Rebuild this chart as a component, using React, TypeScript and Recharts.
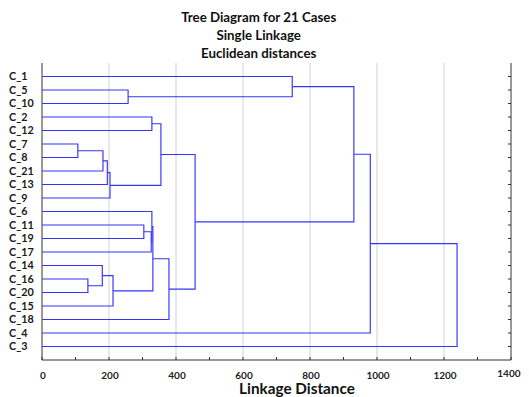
import React from 'react';
import { ScatterChart, Scatter, XAxis, YAxis, ReferenceLine } from 'recharts';

const leafNames = ['C_1', 'C_5', 'C_10', 'C_2', 'C_12', 'C_7', 'C_8', 'C_21', 'C_13', 'C_9', 'C_6', 'C_11', 'C_19', 'C_17', 'C_14', 'C_16', 'C_20', 'C_15', 'C_18', 'C_4', 'C_3'];
const mergeLeft = ['C_5', 'C_1', 'C_2', 'C_7', 'm3', 'm4', 'm5', 'm2', 'C_11', 'm8', 'C_6', 'C_16', 'C_14', 'm12', 'm10', 'm14', 'm7', 'm1', 'm17', 'm18'];
const mergeRight = ['C_10', 'm0', 'C_12', 'C_8', 'C_21', 'C_13', 'C_9', 'm6', 'C_19', 'C_17', 'm9', 'C_20', 'm11', 'C_15', 'm13', 'C_18', 'm15', 'm16', 'C_4', 'C_3'];
const mergeHeights = [257, 747, 328, 107, 182, 195, 203, 355, 304, 326, 328, 137, 180, 212, 331, 379, 457, 931, 980, 1239];
const xMinorTicks = [0, 100, 200, 300, 400, 500, 600, 700, 800, 900, 1000, 1100, 1200, 1300, 1400];
const gridValues = [200, 400, 600, 800, 1000, 1200];

const titleLines = ['Tree Diagram for 21 Cases', 'Single Linkage', 'Euclidean distances'];
const xAxisTitle = 'Linkage Distance';

const FONT = 'Lato, "Open Sans", sans-serif';
const LINE_COLOR = '#3434f6';
const AXIS_COLOR = '#333';

type Node = { h: number; y: number };

function nodeOf(name: string, cache: Record<string, Node>): Node {
  if (cache[name]) return cache[name];
  let n: Node;
  if (name.startsWith('m')) {
    const i = parseInt(name.slice(1), 10);
    const a = nodeOf(mergeLeft[i], cache);
    const b = nodeOf(mergeRight[i], cache);
    n = { h: mergeHeights[i], y: (a.y + b.y) / 2 };
  } else {
    n = { h: 0, y: leafNames.indexOf(name) + 1 };
  }
  cache[name] = n;
  return n;
}

const cache: Record<string, Node> = {};
const links = mergeHeights.map((h, i) => {
  const a = nodeOf(mergeLeft[i], cache);
  const b = nodeOf(mergeRight[i], cache);
  return [
    { x: a.h, y: a.y },
    { x: h, y: a.y },
    { x: h, y: b.y },
    { x: b.h, y: b.y },
  ];
});

const leafTicks = leafNames.map((_, i) => i + 1);
const dummy = leafNames.map((_, i) => ({ x: 0, y: i + 1 }));

const BottomTick = (props: any) => {
  const { x, y, payload } = props;
  const v = payload.value;
  const major = v % 200 === 0;
  const last = v === 1400;
  return (
    <g>
      <line x1={x} x2={x} y1={y} y2={y - 3} stroke={AXIS_COLOR} strokeWidth={1} />
      {major && (
        <text x={last ? x + 9.5 : x + 1} y={y + (last ? 17 : 18.5)} textAnchor={last ? 'end' : 'middle'} fontFamily={FONT} fontWeight={700} fontSize={10} fill="#222">
          {v}
        </text>
      )}
    </g>
  );
};

const TopTick = (props: any) => {
  const { x, y } = props;
  return <line x1={x} x2={x} y1={y} y2={y + 3} stroke={AXIS_COLOR} strokeWidth={1} />;
};

const LeftTick = (props: any) => {
  const { y, payload } = props;
  return (
    <text x={1} y={y} dy={3.9} textAnchor="start" fontFamily={FONT} fontWeight={700} fontSize={10.8} fill="#1a1a1a">
      {leafNames[payload.value - 1]}
    </text>
  );
};

const RightTick = (props: any) => {
  const { x, y } = props;
  return <line x1={x} x2={x - 3} y1={y} y2={y} stroke={AXIS_COLOR} strokeWidth={1} />;
};

const Empty = () => <g />;

export default function App() {
  return (
    <div style={{ position: 'relative', width: 521, height: 389 }}>
      <ScatterChart width={521} height={389} margin={{ top: 55, right: 8, bottom: 0, left: 0 }} style={{ overflow: 'visible' }}>
        <XAxis
          xAxisId="b"
          type="number"
          dataKey="x"
          domain={[0, 1400]}
          ticks={xMinorTicks}
          interval={0}
          height={37}
          tickSize={0}
          tickMargin={0}
          tickLine={false}
          axisLine={{ stroke: AXIS_COLOR }}
          tick={<BottomTick />}
          allowDataOverflow
        />
        <XAxis
          xAxisId="t"
          orientation="top"
          type="number"
          dataKey="x"
          domain={[0, 1400]}
          ticks={xMinorTicks}
          interval={0}
          height={0}
          tickSize={0}
          tickMargin={0}
          tickLine={false}
          axisLine={{ stroke: AXIS_COLOR }}
          tick={<TopTick />}
          allowDataOverflow
        />
        <YAxis
          yAxisId="l"
          type="number"
          dataKey="y"
          domain={[0, 22]}
          reversed
          ticks={leafTicks}
          interval={0}
          width={34}
          tickSize={0}
          tickMargin={0}
          tickLine={false}
          axisLine={{ stroke: AXIS_COLOR }}
          tick={<LeftTick />}
          allowDataOverflow
        />
        <YAxis
          yAxisId="r"
          orientation="right"
          type="number"
          dataKey="y"
          domain={[0, 22]}
          reversed
          ticks={leafTicks}
          interval={0}
          width={10}
          tickSize={0}
          tickMargin={0}
          tickLine={false}
          axisLine={{ stroke: AXIS_COLOR }}
          tick={<RightTick />}
          allowDataOverflow
        />
        {gridValues.map((v) => (
          <ReferenceLine key={'g' + v} x={v} xAxisId="b" yAxisId="l" stroke="#dcdcdc" strokeWidth={1.3} ifOverflow="extendDomain" />
        ))}
        <Scatter xAxisId="t" yAxisId="r" data={dummy} shape={Empty} isAnimationActive={false} />
        {links.map((pts, i) => (
          <Scatter
            key={'l' + i}
            xAxisId="b"
            yAxisId="l"
            data={pts}
            line={{ stroke: LINE_COLOR, strokeWidth: 1.15 }}
            lineType="joint"
            shape={Empty}
            isAnimationActive={false}
          />
        ))}
      </ScatterChart>
      <svg width={521} height={389} style={{ position: 'absolute', left: 0, top: 0, pointerEvents: 'none', overflow: 'visible' }}>
        {titleLines.map((t, i) => (
          <text key={t} x={250.7} y={14 + i * 17.8} textAnchor="middle" fontFamily={FONT} fontWeight={700} fontSize={13.3} fill="#111">
            {t}
          </text>
        ))}
        <text x={289} y={386.3} textAnchor="middle" fontFamily={FONT} fontWeight={700} fontSize={15.3} fill="#111">
          {xAxisTitle}
        </text>
      </svg>
    </div>
  );
}
